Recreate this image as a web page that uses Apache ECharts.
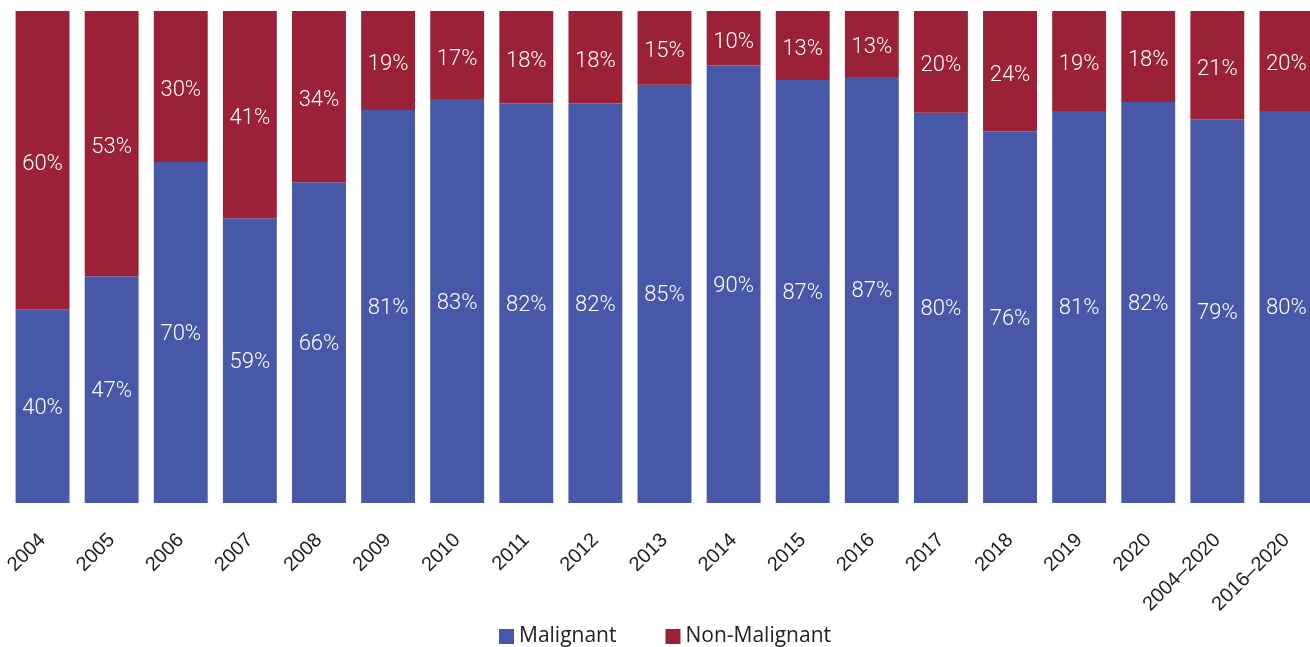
<!DOCTYPE html>
<html><head><meta charset="utf-8">
<script src="https://cdn.jsdelivr.net/npm/echarts@6/dist/echarts.min.js"></script>
<style>html,body{margin:0;padding:0;background:#fff}#c{width:1310px;height:647px}</style>
</head><body><div id="c"></div>
<script>
const categories = ['2004','2005','2006','2007','2008','2009','2010','2011','2012','2013','2014','2015','2016','2017','2018','2019','2020','2004–2020','2016–2020'];
// bar heights (share of 100)
const malignant = [39.4,46.1,69.3,57.9,65.2,79.9,82.1,81.2,81.2,85.0,88.9,86.0,86.6,79.3,75.5,79.7,81.5,78.0,79.7];
const nonMalignant = malignant.map(v => +(100 - v).toFixed(1));
// printed labels
const malignantLabels = [40,47,70,59,66,81,83,82,82,85,90,87,87,80,76,81,82,79,80];
const nonMalignantLabels = [60,53,30,41,34,19,17,18,18,15,10,13,13,20,24,19,18,21,20];

const chart = echarts.init(document.getElementById('c'));
const mkLabel = (arr, off) => ({show:true, position:'inside', offset:off, color:'#fff', fontFamily:'Roboto', fontWeight:300, fontSize:22,
  formatter: p => arr[p.dataIndex] + '%'});
chart.setOption({
  animation:false,
  grid:{left:8, width:1313, top:11, height:492, outerBoundsMode:'none', containLabel:false},
  legend:{top:621, left:494, itemWidth:15, itemHeight:15, itemGap:49, icon:'rect',
    textStyle:{fontFamily:'Open Sans', fontSize:21, color:'#222'}},
  xAxis:{type:'category', data:categories, axisLine:{show:false}, axisTick:{show:false},
    axisLabel:{rotate:45, interval:0, margin:34, color:'#222', fontFamily:'Liberation Sans', fontSize:20}},
  yAxis:{type:'value', min:0, max:100, show:false},
  series:[
    {name:'Malignant', type:'bar', stack:'a', data:malignant, barWidth:'78%', itemStyle:{color:'#4858A8'}, label:mkLabel(malignantLabels,[0,2])},
    {name:'Non-Malignant', type:'bar', stack:'a', data:nonMalignant, barWidth:'78%', itemStyle:{color:'#9B2136'}, label:mkLabel(nonMalignantLabels,[0,4])}
  ]
});
</script></body></html>
